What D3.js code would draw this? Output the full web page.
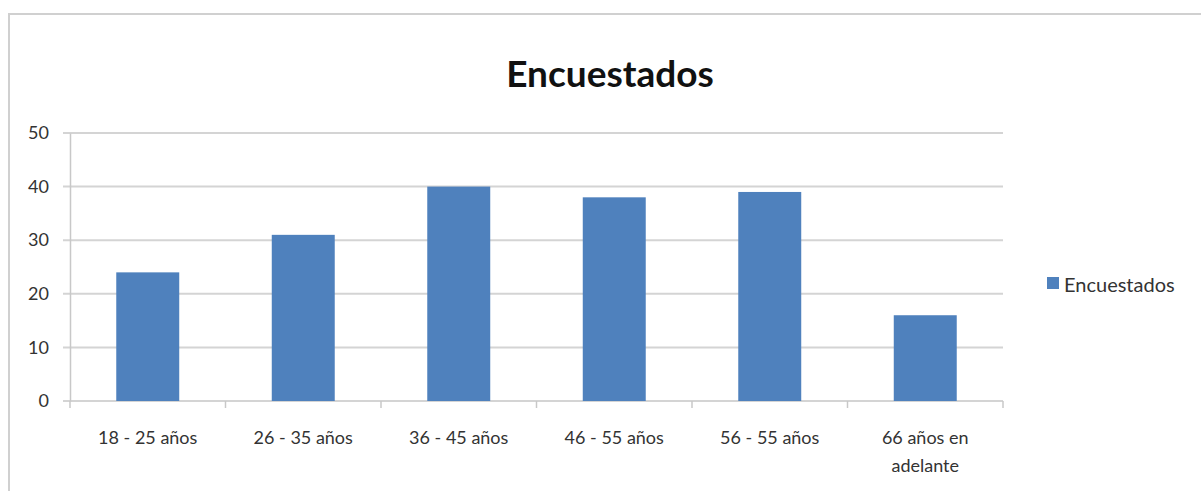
<!DOCTYPE html>
<html><head><meta charset="utf-8">
<script src="https://cdn.jsdelivr.net/npm/d3@7"></script>
<style>body{margin:0;background:#fff}svg{display:block}</style>
</head><body>
<script>
const categories = ["18 - 25 años","26 - 35 años","36 - 45 años","46 - 55 años","56 - 55 años","66 años en|adelante"];
const values = [24, 31, 40, 38, 39, 16];
const yTicks = [0, 10, 20, 30, 40, 50];
const seriesName = "Encuestados";
const titleText = "Encuestados";

const W = 1201, H = 491;
const svg = d3.select("body").append("svg").attr("width", W).attr("height", H);
const font = "Lato, 'Open Sans', sans-serif";

svg.append("rect").attr("x", 9).attr("y", 14).attr("width", W).attr("height", H)
  .attr("fill", "#fff").attr("stroke", "#d0d0d0").attr("stroke-width", 2);

const m = {left: 70, right: 1003, top: 133, bottom: 401};
const x = d3.scaleBand().domain(categories).range([m.left, m.right]).paddingInner(0.595).paddingOuter(0.2975);
const y = d3.scaleLinear().domain([0, 50]).range([m.bottom, m.top]);

// gridlines
svg.append("g").selectAll("line").data(yTicks).join("line")
  .attr("x1", m.left - 7).attr("x2", m.right)
  .attr("y1", d => y(d)).attr("y2", d => y(d))
  .attr("stroke", "#d4d4d4").attr("stroke-width", 2);

// y axis
const ya = svg.append("g").attr("transform", `translate(${m.left},0)`)
  .call(d3.axisLeft(y).tickValues(yTicks).tickSize(0).tickPadding(21));
ya.select(".domain").attr("stroke", "#c8c8c8").attr("stroke-width", 1.5);
ya.selectAll("text").attr("font-family", font).attr("font-size", 18).attr("fill", "#333");

// x axis ticks at band edges
const edges = d3.range(categories.length + 1).map(i => m.left + i * (m.right - m.left) / categories.length);
svg.append("g").selectAll("line").data(edges).join("line")
  .attr("x1", d => d).attr("x2", d => d).attr("y1", m.bottom).attr("y2", m.bottom + 7)
  .attr("stroke", "#c8c8c8").attr("stroke-width", 1.5);

// bars
svg.append("g").selectAll("rect").data(values).join("rect")
  .attr("x", (d, i) => x(categories[i]))
  .attr("width", x.bandwidth())
  .attr("y", d => y(d))
  .attr("height", d => y(0) - y(d))
  .attr("fill", "#4f81bd");

// x labels
const xl = svg.append("g").selectAll("text").data(categories).join("text")
  .attr("x", d => x(d) + x.bandwidth() / 2)
  .attr("y", 444)
  .attr("text-anchor", "middle")
  .attr("font-family", font).attr("font-size", 18).attr("fill", "#333");
xl.each(function(d) {
  const parts = d.split("|");
  const t = d3.select(this);
  parts.forEach((p, i) => t.append("tspan").attr("x", t.attr("x")).attr("dy", i === 0 ? 0 : 28).text(p));
});

// title
svg.append("text").attr("x", 610).attr("y", 87).attr("text-anchor", "middle")
  .attr("font-family", font).attr("font-weight", "bold").attr("font-size", 37).attr("fill", "#111")
  .text(titleText);

// legend
svg.append("rect").attr("x", 1047).attr("y", 277).attr("width", 12).attr("height", 12).attr("fill", "#4f81bd");
svg.append("text").attr("x", 1064).attr("y", 292).attr("font-family", font).attr("font-size", 20).attr("fill", "#333").text(seriesName);
</script>
</body></html>
